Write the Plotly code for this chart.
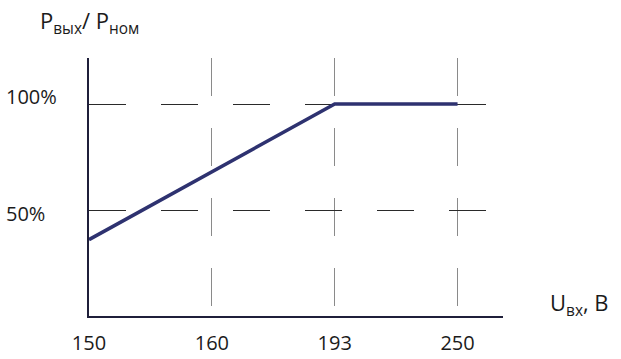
import plotly.graph_objects as go

# Data
x_labels = ["150", "160", "193", "250"]
power_pct = [36, 68, 100, 100]
y_tick_vals = [50, 100]
y_tick_text = ["50%", "100%"]

FONT = "Open Sans"
W, H = 621, 359
L, R, T, B = 89, 118, 58, 43

fig = go.Figure()
fig.add_trace(go.Scatter(
    x=x_labels, y=power_pct, mode="lines",
    line=dict(color="#2e3270", width=3.6),
    hoverinfo="skip", showlegend=False,
))

annotations = []
for v, t in zip(y_tick_vals, y_tick_text):
    annotations.append(dict(
        x=(4 - L) / (W - L - R), xref="paper", xanchor="left",
        y=v, yref="y", yanchor="middle", yshift=-3 if v == 50 else 8,
        text=t, showarrow=False,
        font=dict(family=FONT, size=20, color="#1b1b1b"),
    ))

annotations.append(dict(
    x=(38 - L) / (W - L - R), xref="paper", xanchor="left",
    y=1 + (T - 22) / (H - T - B), yref="paper", yanchor="middle",
    text="P<sub>вых</sub>/ P<sub>ном</sub>", showarrow=False,
    font=dict(family=FONT, size=22, color="#1b1b1b"),
))
annotations.append(dict(
    x=(548 - L) / (W - L - R), xref="paper", xanchor="left",
    y=(H - B - 304) / (H - T - B), yref="paper", yanchor="middle",
    text="U<sub>вх</sub>, В", showarrow=False,
    font=dict(family=FONT, size=22, color="#1b1b1b"),
))

fig.update_layout(
    width=W, height=H,
    margin=dict(l=L, r=R, t=T, b=B),
    paper_bgcolor="white", plot_bgcolor="white",
    annotations=annotations,
    xaxis=dict(
        type="category", range=[0, 3.37], automargin=False,
        showline=True, linecolor="#1f1f3a", linewidth=2,
        showgrid=True, gridcolor="#8a8a8a", gridwidth=1.4, griddash="38px,32px",
        ticks="", tickfont=dict(family=FONT, size=20, color="#1b1b1b"),
        ticklabelstandoff=8, zeroline=False,
    ),
    yaxis=dict(
        range=[0, 121.7], automargin=False,
        showline=True, linecolor="#1f1f3a", linewidth=2,
        showgrid=True, gridcolor="#2a2a2a", gridwidth=1.2, griddash="37px,35px",
        tickvals=y_tick_vals, showticklabels=False, ticks="", zeroline=False,
    ),
)

fig.write_html("out.html")
